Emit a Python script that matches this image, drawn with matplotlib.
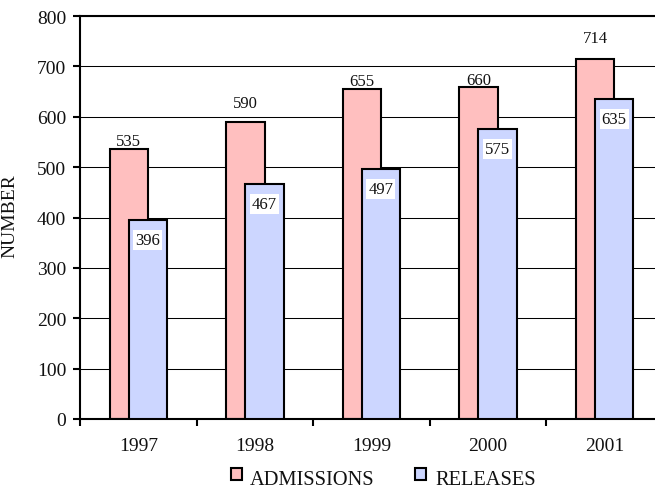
import matplotlib
matplotlib.use("Agg")
import matplotlib.pyplot as plt
from matplotlib.patches import Rectangle
import numpy as np

years = ["1997", "1998", "1999", "2000", "2001"]
admissions = [535, 590, 655, 660, 714]
releases = [396, 467, 497, 575, 635]
series_names = ["ADMISSIONS", "RELEASES"]
y_ticks = [0, 100, 200, 300, 400, 500, 600, 700, 800]

# label offsets (points) above admissions bars, as in the original
adm_label_offsets = [5.8, 13.7, 5.8, 5.0, 15.0]

plt.rcParams['font.family'] = ['Liberation Serif', 'DejaVu Serif']

pink = "#FFBFBF"
blue = "#CCD6FF"
txt = "#111111"

W, H = 655, 489
fig = plt.figure(figsize=(W / 100, H / 100), dpi=100)
ax = fig.add_axes([80/W, 69/H, 583/W, 403/H])

x = np.arange(len(years))
w = 0.33
off = 0.081
ax.bar(x - off, admissions, width=w, color=pink, edgecolor="black", linewidth=1.5, zorder=2)
ax.bar(x + off, releases, width=w, color=blue, edgecolor="black", linewidth=1.5, zorder=3)

for xi, v, o in zip(x, admissions, adm_label_offsets):
    ax.annotate(str(v), (xi - off, v), xytext=(0, o), textcoords="offset points",
                ha="center", va="center", fontsize=12, color=txt, zorder=5)
for xi, v in zip(x, releases):
    ax.annotate(str(v), (xi + off, v), xytext=(0, -14.4), textcoords="offset points",
                ha="center", va="center", fontsize=12, color=txt, zorder=5,
                bbox=dict(boxstyle="square,pad=0.12", fc="white", ec="none"))

ax.set_xlim(-0.5, len(years) - 0.5)
ax.set_ylim(0, 800)
ax.set_yticks(y_ticks)
ax.set_yticklabels([str(t) for t in y_ticks], fontsize=14, color=txt)
ax.yaxis.grid(True, color="black", linewidth=0.75)
ax.set_axisbelow(True)

ax.set_xticks(np.arange(len(years) + 1) - 0.5)
ax.set_xticklabels([])
ax.set_xticks(x, minor=True)
ax.set_xticklabels(years, minor=True, fontsize=14, color=txt)
ax.tick_params(axis="x", which="major", direction="out", length=5, width=1.5)
ax.tick_params(axis="x", which="minor", length=0, pad=13)
ax.tick_params(axis="y", direction="out", length=5, width=1.5, pad=5)

for s in ["left", "bottom", "top"]:
    ax.spines[s].set_linewidth(1.5)
ax.spines["right"].set_visible(False)

ax.set_ylabel("NUMBER", fontsize=14, color=txt)
ax.yaxis.set_label_coords(-0.106, 0.506)

# legend drawn manually (raised square keys as in the original)
key_x = [231, 415]
text_x = [250, 435]
for kx, tx, c, name in zip(key_x, text_x, (pink, blue), series_names):
    fig.patches.append(Rectangle((kx / W, (H - 481) / H), 11 / W, 12 / H,
                                 transform=fig.transFigure, facecolor=c,
                                 edgecolor="black", linewidth=1.5))
    fig.text(tx / W, (H - 485) / H, name, fontsize=14.7, color=txt,
             ha="left", va="baseline")

fig.savefig("out.png", dpi=100)
